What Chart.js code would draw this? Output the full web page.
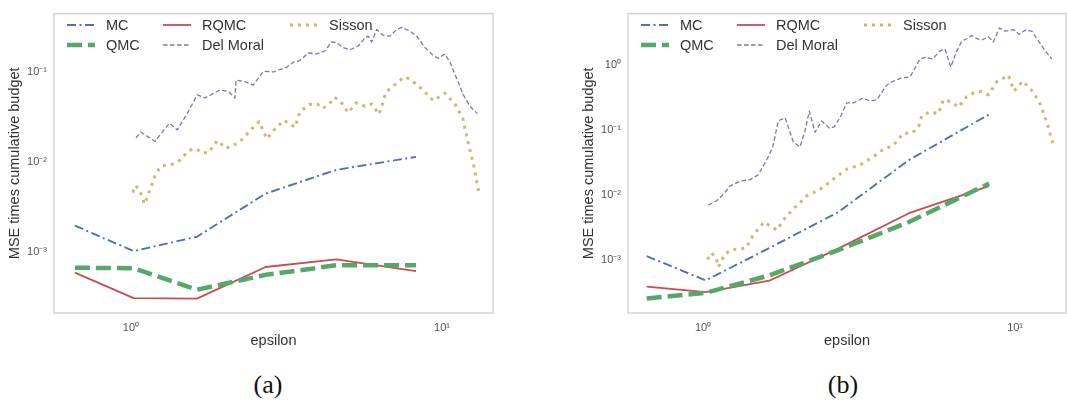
<!DOCTYPE html>
<html>
<head>
<meta charset="utf-8">
<script src="https://cdn.jsdelivr.net/npm/chart.js@4.4.0/dist/chart.umd.min.js"></script>
<style>
    body { margin: 0; background: #fff; width: 1067px; height: 402px; overflow: hidden; position: relative; }
    .panel { position: absolute; top: 0; height: 360px; }
    #pa { left: 0; width: 533px; }
    #pb { left: 533px; width: 534px; }
    .cap { position: absolute; top: 370px; width: 70px; text-align: center; line-height: 30px;
           font-family: 'Liberation Serif', 'DejaVu Serif', serif; font-size: 26px; color: #111; }
</style>
</head>
<body>
<div class="panel" id="pa"><canvas id="chart-a"></canvas></div>
<div class="panel" id="pb"><canvas id="chart-b"></canvas></div>
<div class="cap" style="left:233px">(a)</div>
<div class="cap" style="left:808px">(b)</div>

<script>
// ----- data -----
const epsGrid = [0.66, 1.02, 1.63, 2.71, 4.57, 8.25];

// panel (a)
const mcA   = [1.98e-3, 1.03e-3, 1.49e-3, 4.49e-3, 8.24e-3, 1.15e-2];
const qmcA  = [6.75e-4, 6.65e-4, 3.84e-4, 5.62e-4, 7.17e-4, 7.2e-4];
const rqmcA = [5.96e-4, 3.10e-4, 3.06e-4, 6.87e-4, 8.33e-4, 6.17e-4];

const delMoralEpsA = [1.038,1.075,1.194,1.328,1.409,1.511,1.634,1.729,1.933,2.056,2.160,2.176,2.326,2.474,2.664,2.869,3.168,3.325,3.494,3.716,3.955,4.206,4.418,4.585,4.815,5.06,5.38,5.654,5.795,5.943,6.166,6.476,6.804,7.150,7.419,7.89,8.29,8.817,9.376,9.73,10.22,10.61,11.15,11.71,12.30,12.99];
const delMoralA = [0.0187,0.0217,0.0171,0.0272,0.0229,0.0341,0.0562,0.0518,0.0637,0.0611,0.0518,0.0818,0.0785,0.0722,0.1025,0.1008,0.114,0.1294,0.135,0.1637,0.1597,0.1734,0.2173,0.2134,0.1883,0.1778,0.1965,0.242,0.2523,0.2173,0.2985,0.257,0.2523,0.2985,0.316,0.2863,0.2523,0.1883,0.1531,0.143,0.1596,0.1294,0.0855,0.0562,0.042,0.0347];

const sissonEpsA = [1.013,1.038,1.090,1.101,1.128,1.203,1.255,1.342,1.419,1.540,1.618,1.688,1.773,1.895,2.021,2.229,2.413,2.585,2.732,2.883,3.105,3.368,3.494,3.744,3.972,4.135,4.342,4.506,4.699,4.995,5.291,5.654,5.943,6.272,6.399,6.605,7.565,7.89,8.606,9.376,10.22,11.01,11.66,12.09,12.61,13.15];
const sissonA = [0.0046,0.00552,0.00417,0.00344,0.00406,0.00759,0.00912,0.00936,0.01019,0.01361,0.01419,0.01274,0.01274,0.01746,0.01429,0.01663,0.02244,0.02838,0.01824,0.02286,0.02931,0.02445,0.03648,0.04375,0.04454,0.03963,0.04454,0.05263,0.04842,0.03556,0.04571,0.04197,0.04454,0.03414,0.04197,0.06014,0.08891,0.08395,0.06531,0.04842,0.05859,0.04454,0.03083,0.01746,0.00975,0.00452];

// panel (b)
const mcB   = [1.15e-3, 4.86e-4, 1.53e-3, 5.47e-3, 0.0348, 0.176];
const qmcB  = [2.55e-4, 3.13e-4, 5.8e-4, 1.42e-3, 3.86e-3, 0.0151];
const rqmcB = [3.90e-4, 3.20e-4, 4.81e-4, 1.50e-3, 5.28e-3, 0.0138];

const delMoralEpsB = [1.040,1.106,1.162,1.220,1.314,1.414,1.504,1.619,1.673,1.743,1.832,1.947,2.046,2.123,2.191,2.286,2.401,2.541,2.630,2.749,2.887,3.032,3.264,3.429,3.604,3.880,4.026,4.280,4.608,4.962,5.146,5.447,5.748,5.964,6.221,6.470,6.750,7.003,7.264,7.537,7.822,8.213,8.520,8.907,9.290,9.876,10.32,10.77,11.31,11.88,12.48,13.11];
const delMoralB = [0.00705,0.0082,0.01032,0.0138,0.01643,0.01738,0.02066,0.03917,0.05546,0.1396,0.157,0.0659,0.05546,0.0986,0.1977,0.0933,0.1396,0.1083,0.1133,0.157,0.2644,0.2644,0.3148,0.2814,0.2966,0.499,0.56,0.630,0.666,1.262,1.334,1.262,1.684,1.786,0.943,1.587,2.383,2.581,2.904,2.581,2.466,2.767,2.301,3.783,3.373,3.578,3.006,3.491,3.373,2.383,1.684,1.262];

const sissonEpsB = [1.032,1.066,1.106,1.119,1.176,1.236,1.374,1.449,1.569,1.723,1.832,1.947,2.150,2.371,2.567,2.887,3.187,3.514,3.740,4.073,4.385,4.667,4.898,5.023,5.341,5.679,5.892,6.268,6.582,7.003,7.444,7.822,8.213,8.736,9.517,9.926,10.59,11.45,12.09,12.64,13.21];
const sissonB = [0.00102,0.001285,0.00102,0.000781,0.00124,0.001445,0.001528,0.00243,0.00386,0.0029,0.00444,0.00612,0.00976,0.01227,0.01643,0.02518,0.02924,0.03917,0.04922,0.0586,0.0901,0.0901,0.111,0.166,0.1935,0.1805,0.2966,0.2737,0.227,0.3326,0.3876,0.3957,0.3527,0.56,0.7066,0.4055,0.5738,0.3876,0.2432,0.132,0.0637];

const xTicks = [1, 10];
const yTicksA = [1e-3, 1e-2, 1e-1];
const yTicksB = [1e-3, 1e-2, 1e-1, 1];

Chart.defaults.font.family = "'Liberation Sans', Arial, sans-serif";

const SUP = { '-': '\u207B', '0': '\u2070', '1': '\u00B9', '2': '\u00B2', '3': '\u00B3' };
function powLabel(v) {
    const e = Math.round(Math.log10(v));
    return '10' + String(e).split('').map(c => SUP[c]).join('');
}
const pts = (xs, ys) => xs.map((x, i) => ({ x: x, y: ys[i] }));

// light grey box round the axes
const axesFrame = {
    id: 'axesFrame',
    beforeDatasetsDraw(chart) {
        const { ctx, chartArea: a } = chart;
        ctx.save();
        ctx.strokeStyle = '#d4d4d4';
        ctx.lineWidth = 1.5;
        ctx.strokeRect(a.left, a.top, a.right - a.left, a.bottom - a.top);
        ctx.restore();
    }
};

// matplotlib-like legend inside the axes, 3 columns filled column-wise
const insideLegend = {
    id: 'insideLegend',
    afterDatasetsDraw(chart) {
        const { ctx, chartArea } = chart;
        const colX = [13, 109, 236];
        ctx.save();
        chart.data.datasets.forEach((ds, i) => {
            const x0 = chartArea.left + colX[Math.floor(i / 2)];
            const y = 25 + (i % 2) * 20;
            ctx.beginPath();
            ctx.setLineDash(ds.borderDash || []);
            ctx.lineWidth = ds.borderWidth;
            ctx.strokeStyle = ds.borderColor;
            ctx.lineCap = 'butt';
            ctx.moveTo(x0, y);
            ctx.lineTo(x0 + 28, y);
            ctx.stroke();
            ctx.setLineDash([]);
            ctx.fillStyle = '#333';
            ctx.font = "14.5px 'Liberation Sans', Arial, sans-serif";
            ctx.textBaseline = 'middle';
            ctx.fillText(ds.label, x0 + 39, y + 1);
        });
        ctx.restore();
    }
};

function makePanel(id, d) {
    const datasets = [
        { label: 'MC', data: pts(epsGrid, d.mc), borderColor: '#4C72B0', borderWidth: 1.9, borderDash: [9, 3.5, 2, 3.5] },
        { label: 'QMC', data: pts(epsGrid, d.qmc), borderColor: '#55A868', borderWidth: 4.5, borderDash: [15, 6] },
        { label: 'RQMC', data: pts(epsGrid, d.rqmc), borderColor: '#C44E52', borderWidth: 1.8, borderDash: [] },
        { label: 'Del Moral', data: pts(d.dmEps, d.dm), borderColor: '#8172B2', borderWidth: 1.3, borderDash: [4.5, 2.5] },
        { label: 'Sisson', data: pts(d.sEps, d.s), borderColor: '#CCB974', borderWidth: 3, borderDash: [3, 5] }
    ];
    datasets.forEach(ds => {
        ds.pointRadius = 0;
        ds.fill = false;
        ds.tension = 0;
        ds.borderCapStyle = 'butt';
        ds.borderJoinStyle = 'round';
    });

    return new Chart(document.getElementById(id).getContext('2d'), {
        type: 'line',
        data: { datasets: datasets },
        options: {
            responsive: true,
            maintainAspectRatio: false,
            animation: false,
            devicePixelRatio: 1,
            layout: { padding: { top: 7, right: d.padRight, bottom: 0, left: d.padLeft } },
            plugins: { legend: { display: false }, tooltip: { enabled: false } },
            scales: {
                x: {
                    type: 'logarithmic',
                    min: d.xMin, max: d.xMax,
                    afterBuildTicks: s => { s.ticks = xTicks.map(v => ({ value: v })); },
                    afterFit: s => { s.height = 47; },
                    grid: { display: false, drawTicks: false },
                    border: { display: false },
                    ticks: { padding: 8, color: '#555', font: { size: 11 }, autoSkip: false, maxRotation: 0, callback: v => powLabel(v) },
                    title: { display: true, text: 'epsilon', color: '#333', font: { size: 14.5 }, padding: { top: 0, bottom: 10 } }
                },
                y: {
                    type: 'logarithmic',
                    min: d.yMin, max: d.yMax,
                    afterBuildTicks: s => { s.ticks = d.yTicks.map(v => ({ value: v })); },
                    afterFit: s => { s.width = 54; },
                    grid: { display: false, drawTicks: false },
                    border: { display: false },
                    ticks: { padding: 7, color: '#555', font: { size: 11 }, autoSkip: false, callback: v => powLabel(v) },
                    title: { display: true, text: 'MSE times cumulative budget', color: '#333', font: { size: 14.5 }, padding: { top: 6, bottom: 0 } }
                }
            }
        },
        plugins: [axesFrame, insideLegend]
    });
}

makePanel('chart-a', {
    mc: mcA, qmc: qmcA, rqmc: rqmcA,
    dmEps: delMoralEpsA, dm: delMoralA, sEps: sissonEpsA, s: sissonA,
    xMin: 0.5655, xMax: 14.59, yMin: 2.118e-4, yMax: 0.4487, yTicks: yTicksA,
    padLeft: 0, padRight: 40
});
makePanel('chart-b', {
    mc: mcB, qmc: qmcB, rqmc: rqmcB,
    dmEps: delMoralEpsB, dm: delMoralB, sEps: sissonEpsB, s: sissonB,
    xMin: 0.575, xMax: 14.56, yMin: 1.528e-4, yMax: 6.30, yTicks: yTicksB,
    padLeft: 41, padRight: 1
});
</script>
</body>
</html>
